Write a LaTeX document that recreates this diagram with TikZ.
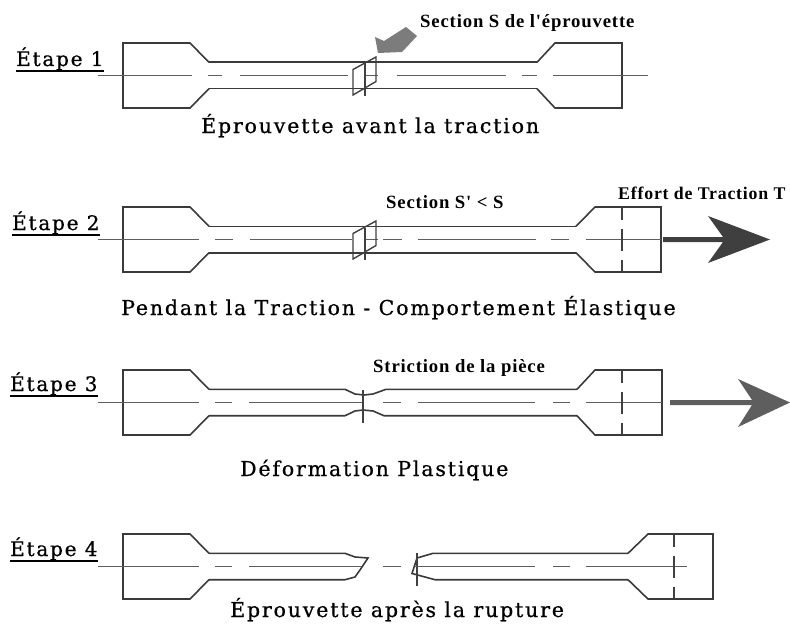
\documentclass[tikz,border=0pt]{standalone}
\usepackage{fontspec}
\usepackage{tikz}
\usetikzlibrary{arrows.meta,positioning,calc}
\setmainfont{DejaVu Serif}
\newfontfamily\titlefont[LetterSpace=9,FakeBold=0.7]{DejaVu Serif}
\newfontfamily\notefont[LetterSpace=4.5]{Liberation Serif}
\definecolor{inkline}{HTML}{3A3A3A}
\definecolor{axisline}{HTML}{5E5E5E}
\definecolor{forcedark}{HTML}{3F3F3F}
\definecolor{forcemid}{HTML}{5E5E5E}
\definecolor{pointer}{HTML}{7C7C7C}

\begin{document}
\begin{tikzpicture}[x=1pt, y=-1pt,
  outline/.style={draw=inkline, line width=1.6pt, line join=miter},
  axisln/.style={draw=axisline, line width=1.8pt},
  cutln/.style={draw=black!75, line width=1.4pt},
  steplabel/.style={anchor=base west, inner sep=0pt, font=\fontsize{20}{22}\titlefont},
  caption/.style={anchor=base west, inner sep=0pt, font=\fontsize{20.5}{24}\titlefont},
  note/.style={anchor=base west, inner sep=0pt, font=\fontsize{18.7}{22}\notefont\bfseries},
  stepline/.style={draw=black, line width=2.2pt}
]
  \useasboundingbox (0,0) rectangle (790,626);

  % grips of the four specimens
  \foreach \c/\xa/\xb/\xc in {75.5/537/555/622, 239.5/576/595/661, 402.5/577/595/662, 566.5/628/648/713} {
    \draw[outline] (209,\c-13.2) -- (190,\c-32.5) -- (123,\c-32.5) -- (123,\c+32.5) -- (190,\c+32.5) -- (209,\c+13.2);
    \draw[outline] (\xa,\c-13.2) -- (\xb,\c-32.5) -- (\xc,\c-32.5) -- (\xc,\c+32.5) -- (\xb,\c+32.5) -- (\xa,\c+13.2);
  }

  % necks
  \foreach \c/\xa in {75.5/537, 239.5/576} {
    \draw[outline] (209,\c-13.2) -- (\xa,\c-13.2);
    \draw[outline] (209,\c+13.2) -- (\xa,\c+13.2);
  }
  \draw[outline] (209,389.3) -- (345,389.3) -- (355,394) -- (364,395) -- (373,394) -- (386,389.3) -- (577,389.3);
  \draw[outline] (209,415.7) -- (345,415.7) -- (355,411) -- (363,410) -- (373,411) -- (384,415.7) -- (577,415.7);
  \draw[outline] (209,553.3) -- (345,553.3) -- (355,557) -- (368,558) -- (360,570) -- (355,577) -- (345,579.7) -- (209,579.7);
  \draw[outline] (628,553.3) -- (433,553.3) -- (417,558) -- (412,573.5) -- (435,579.7) -- (628,579.7);
  \draw[cutln] (417,553) -- (417,586);

  % axes, broken by hand
  \foreach \xa/\xb in {98/192, 208/222, 240/348, 365/378, 397/506, 522/537, 553/648}
    \draw[axisln] (\xa,75.5) -- (\xb,75.5);
  \foreach \xa/\xb in {98/199, 215/233, 250/352, 365/378, 383/402, 418/536, 551/569, 586/661}
    \draw[axisln] (\xa,239.5) -- (\xb,239.5);
  \foreach \xa/\xb in {98/199, 215/232, 249/364, 383/401, 418/535, 553/570, 586/662}
    \draw[axisln] (\xa,402.5) -- (\xb,402.5);
  \foreach \xa/\xb in {98/199, 215/232, 249/362, 383/401, 415/535, 553/570, 586/687}
    \draw[axisln] (\xa,566.5) -- (\xb,566.5);

  % cut planes
  \foreach \c in {75.5, 239.5} {
    \draw[cutln] (353,\c-6) -- (376,\c-18.5) -- (376,\c+6) -- (353,\c+19.5) -- cycle;
    \draw[cutln] (365,\c-12) -- (365,\c+20);
  }
  \draw[cutln] (363,390) -- (363,423);

  % dashed section lines in the right grips
  \foreach \c/\xs in {239.5/622, 402.5/622, 566.5/674} {
    \draw[cutln] (\xs,\c-32.5) -- (\xs,\c-20);
    \draw[cutln] (\xs,\c-11) -- (\xs,\c+11);
    \draw[cutln] (\xs,\c+20) -- (\xs,\c+32.5);
  }

  % pointer and pulling arrows
  \fill[pointer] (378,53) -- (375,37) -- (384,41) -- (406,27) -- (417,36) -- (402,52) -- cycle;
  \fill[forcedark] (663,237) -- (723,237) -- (708,216) -- (770,239.5) -- (708,263) -- (723,242) -- (663,242) -- cycle;
  \fill[forcemid] (670,400) -- (752,400) -- (738,379) -- (790,402.5) -- (738,427) -- (752,405) -- (670,405) -- cycle;

  % step labels
  \node[steplabel] (step1) at (16,66) {Étape 1};
  \node[steplabel] (step2) at (12,230) {Étape 2};
  \node[steplabel] (step3) at (10,391) {Étape 3};
  \node[steplabel] (step4) at (10,556) {Étape 4};
  \foreach \n in {1,2,3,4}
    \draw[stepline] ([yshift=-5pt]step\n.base west) -- ([yshift=-5pt]step\n.base east);

  % captions
  \node[caption] (capa) at (201,133) {Éprouvette avant la traction};
  \node[caption] (capb) at (121,315) {Pendant la Traction - Comportement Élastique};
  \node[caption] (capc) at (240,476) {Déformation Plastique};
  \node[caption] (capd) at (230,617) {Éprouvette après la rupture};

  % notes
  \node[note] (notea) at (420,28) {Section S de l'éprouvette};
  \node[note] (noteb) at (386,208) {Section S' < S};
  \node[note, font=\fontsize{17.8}{22}\notefont\bfseries] (notec) at (618,199) {Effort de Traction T};
  \node[note] (noted) at (373,372) {Striction de la pièce};
\end{tikzpicture}
\end{document}
